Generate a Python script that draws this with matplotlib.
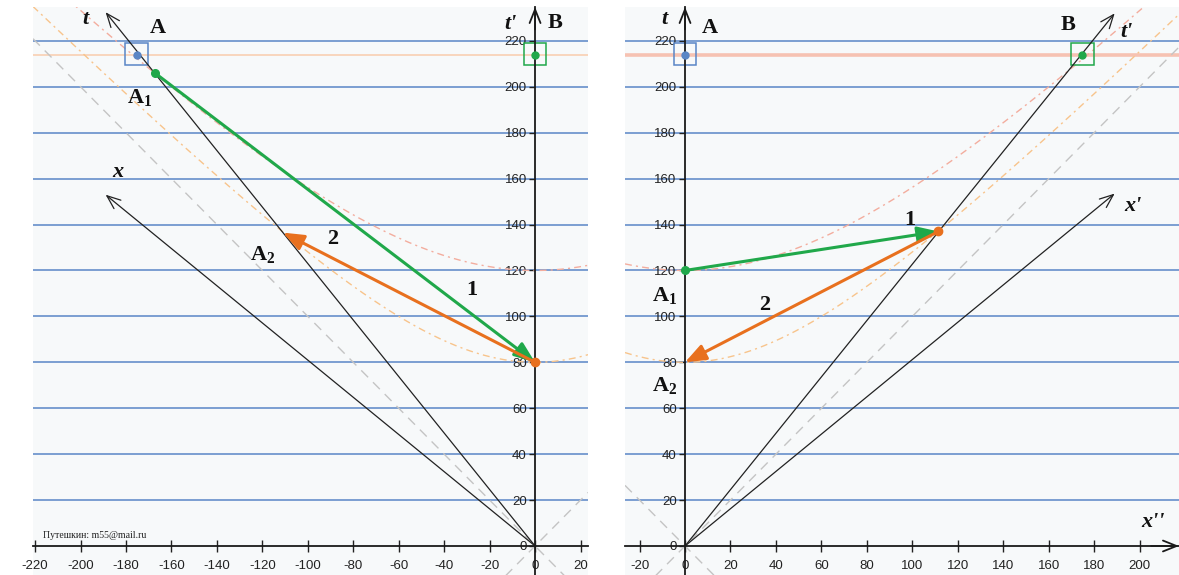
import numpy as np
import matplotlib.pyplot as plt
from matplotlib.patches import Rectangle

plt.rcParams['axes.unicode_minus'] = False
plt.rcParams['mathtext.fontset'] = 'custom'
plt.rcParams['mathtext.rm'] = 'Liberation Serif'
plt.rcParams['mathtext.bf'] = 'Liberation Serif:bold'
plt.rcParams['mathtext.it'] = 'Liberation Serif:italic'

# values
grid_t = [20, 40, 60, 80, 100, 120, 140, 160, 180, 200, 220]
t_event = 214                      # time of events A and B
hyper_levels = [80, 120]           # invariant intervals (dashed hyperbolas)
hyper_colors = ['#f7c48c', '#f3ad9e']

# left panel: frame of B
left_xticks = list(range(-220, 21, 20))
left_yticks = list(range(0, 221, 20))
left_t_end = (-189, 232.5)         # A's worldline (t axis)
left_x_end = (-189, 153)           # A's x axis
left_A = (-175.3, 214)
left_B = (0, 214)
left_A1 = (-167.3, 206)
left_A2 = (-111, 136.5)
left_P = (0, 80)

# right panel: frame of A
right_xticks = list(range(-20, 201, 20))
right_yticks = list(range(0, 221, 20))
right_t_end = (189, 232)           # B's worldline (t' axis)
right_x_end = (189, 153.5)         # x' axis
right_A = (0, 214)
right_B = (174.7, 214)
right_A1 = (0, 120)
right_A2 = (0, 80)
right_P = (111.5, 137)

blue = '#5a86c6'
green = '#20a84a'
orange = '#e8701e'
bg = '#f7f9fa'
serif = 'Liberation Serif'

fig = plt.figure(figsize=(11.79, 5.75), dpi=100)
W, H = 1179.0, 575.0
ylim = (-29 / 2.296, (568 - 29) / 2.296)
axL = fig.add_axes([33 / W, 0, 555 / W, 568 / H])
axR = fig.add_axes([625 / W, 0, 554 / W, 568 / H])
axL.set_xlim(-220.95, 23.3)
axR.set_xlim(-26.4, 217.3)


def setup(ax, xticks, yticks, rline_lw, rline_color):
    ax.set_ylim(*ylim)
    ax.set_facecolor(bg)
    for s in ('top', 'right'):
        ax.spines[s].set_visible(False)
    ax.spines['left'].set_position(('data', 0))
    ax.spines['bottom'].set_position(('data', 0))
    for s in ('left', 'bottom'):
        ax.spines[s].set_linewidth(1.3)
        ax.spines[s].set_color('#1a1a1a')
        ax.spines[s].set_zorder(6)
    ax.set_xticks(xticks)
    ax.set_yticks(yticks)
    ax.tick_params(axis='x', direction='inout', length=8, width=1, pad=6,
                   labelsize=9.5, colors='#222222')
    ax.tick_params(axis='y', direction='out', length=4, width=1, pad=2,
                   labelsize=9.5, colors='#222222')
    for lab in ax.get_xticklabels() + ax.get_yticklabels():
        lab.set_fontfamily('Liberation Sans')
    for t in grid_t:
        ax.axhline(t, color=blue, lw=1.1, zorder=1)
    ax.axhline(t_event, color=rline_color, lw=rline_lw, zorder=1.5)
    x0, x1 = ax.get_xlim()
    xs = np.linspace(x0, x1, 400)
    for c, col in zip(hyper_levels, hyper_colors):
        ax.plot(xs, np.sqrt(c ** 2 + xs ** 2), color=col, lw=1,
                dashes=(5, 3, 1.5, 3), zorder=2)
    ax.plot([x0, x1], [x0, x1], color='#c4c4c4', lw=1, dashes=(7, 5), zorder=2)
    ax.plot([x0, x1], [-x0, -x1], color='#c4c4c4', lw=1, dashes=(7, 5), zorder=2)


def line_arrow(ax, start, end, color='#222222', lw=0.9):
    ax.annotate('', xy=end, xytext=start, zorder=5,
                arrowprops=dict(arrowstyle='->,head_length=0.7,head_width=0.28',
                                color=color, lw=lw, shrinkA=0, shrinkB=0,
                                mutation_scale=14))


def vec(ax, start, end, color):
    ax.annotate('', xy=end, xytext=start, zorder=7,
                arrowprops=dict(arrowstyle='-|>,head_length=0.9,head_width=0.35',
                                color=color, lw=2.2, shrinkA=0, shrinkB=0,
                                mutation_scale=14))


def box(ax, p, color):
    ax.add_patch(Rectangle((p[0] - 5, p[1] - 4.4), 10, 9.6, fill=False,
                           ec=color, lw=1.1, zorder=4))


def label(ax, x, y, s, italic=False, size=16):
    ax.text(x, y, s, fontsize=size, fontfamily=serif, fontweight='bold',
            fontstyle='italic' if italic else 'normal',
            ha='center', va='center', color='#111111', zorder=9)


setup(axL, left_xticks, left_yticks, 1.2, '#f9d0b2')
setup(axR, right_xticks, right_yticks, 2.6, '#f6c2b2')

# ---- left panel ----
line_arrow(axL, (0, 0), left_t_end)
line_arrow(axL, (0, 0), left_x_end)
line_arrow(axL, (0, 225), (0, ylim[1]), color='#1a1a1a', lw=1.3)
box(axL, left_A, blue)
box(axL, left_B, green)
vec(axL, left_A1, left_P, green)
vec(axL, left_P, left_A2, orange)
axL.plot(*left_A, 'o', color=blue, ms=5, zorder=8)
axL.plot(*left_B, 'o', color=green, ms=5, zorder=8)
axL.plot(*left_A1, 'o', color=green, ms=5.5, zorder=8)
axL.plot(*left_P, 'o', color=orange, ms=6, zorder=8)
label(axL, -198, 229.5, 't', italic=True)
label(axL, -183.5, 163, 'x', italic=True)
label(axL, -11, 227.5, "t'", italic=True)
label(axL, -166, 225.5, 'A')
label(axL, 9, 228, 'B')
label(axL, -174, 195.5, r'$\mathbf{A}_{\mathbf{1}}$')
label(axL, -120, 127, r'$\mathbf{A}_{\mathbf{2}}$')
label(axL, -89, 133.5, '2')
label(axL, -28, 111.5, '1')
axL.text(-216.5, 4.5, 'Путешкин: m55@mail.ru', fontsize=7, fontfamily=serif,
         color='#222222', ha='left', va='center')

# ---- right panel ----
line_arrow(axR, (0, 0), right_t_end)
line_arrow(axR, (0, 0), right_x_end)
line_arrow(axR, (0, 225), (0, ylim[1]), color='#1a1a1a', lw=1.3)
line_arrow(axR, (205, 0), (217.3, 0), color='#1a1a1a', lw=1.3)
box(axR, right_A, blue)
box(axR, right_B, green)
vec(axR, right_A1, right_P, green)
vec(axR, right_P, right_A2, orange)
axR.plot(*right_A, 'o', color=blue, ms=5, zorder=8)
axR.plot(*right_B, 'o', color=green, ms=5, zorder=8)
axR.plot(*right_A1, 'o', color=green, ms=5.5, zorder=8)
axR.plot(*right_P, 'o', color=orange, ms=6, zorder=8)
label(axR, -9, 229.5, 't', italic=True)
label(axR, 194, 224, "t'", italic=True)
label(axR, 197, 148, "x'", italic=True)
label(axR, 206, 10.5, "x''", italic=True)
label(axR, 11, 225.5, 'A')
label(axR, 168.5, 227, 'B')
label(axR, -9, 109, r'$\mathbf{A}_{\mathbf{1}}$')
label(axR, -9, 70, r'$\mathbf{A}_{\mathbf{2}}$')
label(axR, 99, 142, '1')
label(axR, 35, 105, '2')

fig.savefig('out.png', dpi=100)
